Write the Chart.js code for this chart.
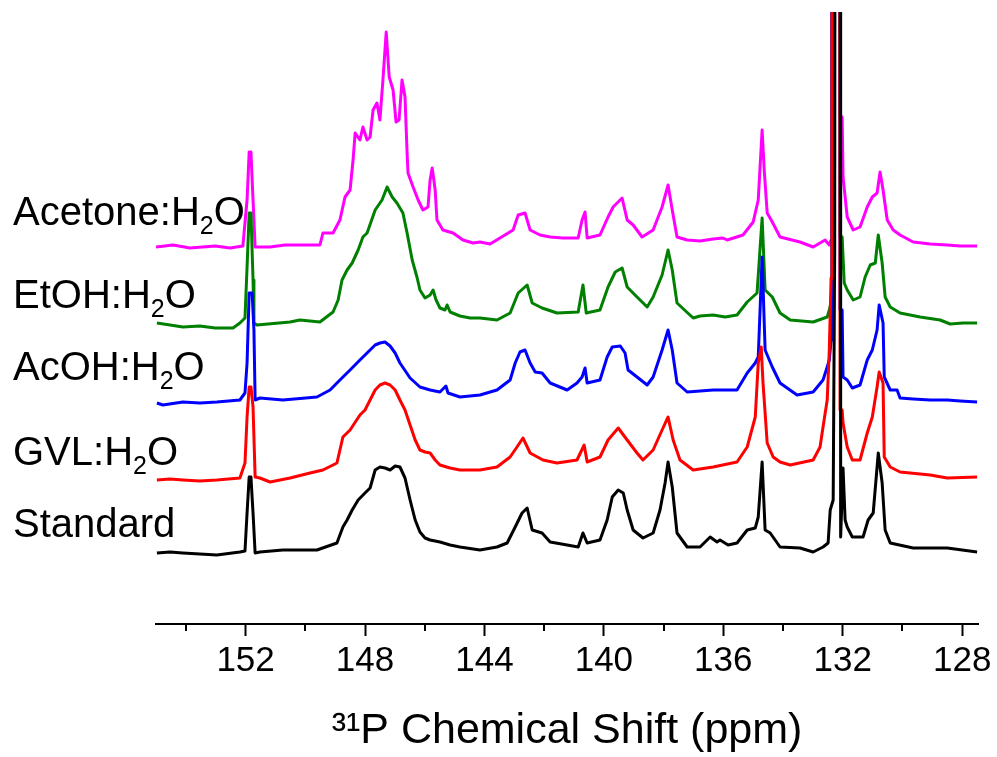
<!DOCTYPE html>
<html><head><meta charset="utf-8">
<script src="https://cdn.jsdelivr.net/npm/chart.js@4/dist/chart.umd.min.js"></script>
<style>html,body{margin:0;padding:0;background:#fff;}canvas{display:block;}</style>
</head><body>
<canvas id="c" width="997" height="757"></canvas>
<script>
// ---------- axis ticks ----------
const majorTicks = [152, 148, 144, 140, 136, 132, 128];
const minorTicks = [154, 150, 146, 142, 138, 134, 130];

// ---------- series (stacked 31P NMR spectra) ----------
const seriesNames = ['Standard', 'GVL:H2O', 'AcOH:H2O', 'EtOH:H2O', 'Acetone:H2O'];
const seriesColors = ['#000000', '#ff0000', '#0000ff', '#008000', '#ff00ff'];
const seriesOffsets = [74, 146, 224, 302, 379];

const acetonePpm = [155.00,154.43,153.86,153.02,152.52,152.09,151.95,151.88,151.82,151.75,151.68,151.62,151.18,150.68,150.18,149.51,149.41,149.07,148.84,148.67,148.50,148.40,148.33,148.17,148.07,147.93,147.83,147.73,147.60,147.50,147.40,147.29,147.19,147.06,146.96,146.86,146.76,146.66,146.59,146.56,146.39,146.22,146.06,145.89,145.82,145.75,145.65,145.59,145.39,145.05,144.72,144.38,144.15,143.81,143.48,143.04,142.87,142.64,142.47,142.14,141.80,141.37,140.86,140.73,140.63,140.56,140.13,139.86,139.69,139.39,139.22,139.02,138.72,138.35,138.05,137.85,137.71,137.55,137.21,136.78,136.34,136.01,135.87,135.34,135.00,134.83,134.70,134.63,134.53,134.36,134.10,133.43,132.99,132.59,132.45,132.39,132.36,132.10,132.09,132.02,131.99,131.85,131.65,131.42,131.18,131.01,130.85,130.75,130.65,130.51,130.31,130.08,129.64,129.07,128.50,128.07,127.50];
const acetoneInt = [-2,0,-3,-1,-3,-1,45,93,93,45,-2,-2,-2,0,0,0,12,12,25,48,55,85,112,105,118,105,108,135,142,125,165,213,168,155,123,125,165,148,92,72,58,45,35,38,65,77,55,25,15,12,5,2,3,1,7,15,30,32,15,10,8,7,7,25,33,7,10,28,38,47,25,20,8,15,38,60,35,8,5,4,6,7,5,10,23,45,115,75,32,23,8,3,-2,5,0,5,1400,1400,128,128,68,28,15,18,38,48,52,73,55,25,15,10,3,1,0,-1,-1];

const etohPpm = [154.97,154.53,154.10,153.53,153.02,152.42,152.19,152.02,151.95,151.88,151.82,151.75,151.72,151.62,150.51,150.18,149.51,149.07,148.90,148.77,148.60,148.43,148.23,148.07,147.93,147.66,147.43,147.26,147.09,146.93,146.73,146.59,146.42,146.26,146.16,145.99,145.82,145.72,145.62,145.49,145.32,145.25,145.15,144.82,144.48,144.15,143.58,143.14,142.87,142.57,142.40,142.07,141.57,140.86,140.70,140.59,140.13,139.86,139.62,139.39,139.22,138.89,138.55,138.35,138.05,137.85,137.71,137.55,137.01,136.78,136.34,135.94,135.54,135.20,134.87,134.70,134.60,134.36,134.10,133.76,132.99,132.52,132.45,132.39,132.36,132.10,132.09,132.02,131.95,131.85,131.65,131.42,131.25,131.08,130.91,130.81,130.68,130.58,130.41,130.08,129.41,128.74,128.40,127.97,127.50];
const etohInt = [-1,-3,-5,-4,-6,-6,-1,4,55,109,109,42,-1,-3,0,2,0,10,22,42,52,59,72,85,89,112,122,135,125,119,109,89,62,45,32,24,27,32,22,14,12,17,10,6,4,4,2,9,29,37,19,14,9,10,37,9,12,35,50,54,35,25,15,25,47,72,52,19,4,6,7,5,7,20,29,104,32,25,9,2,0,5,12,20,1400,1400,85,85,39,32,22,25,45,57,59,87,59,25,15,9,5,2,-2,-1,-1];

const acohPpm = [154.97,154.77,154.10,153.53,152.96,152.19,152.02,151.95,151.88,151.78,151.72,151.68,151.52,150.75,149.61,149.17,148.84,148.50,148.17,147.83,147.66,147.50,147.33,147.16,146.99,146.83,146.49,146.16,145.82,145.49,145.29,145.22,144.82,144.15,143.58,143.14,142.97,142.81,142.64,142.47,142.30,142.07,141.80,141.23,140.90,140.73,140.63,140.56,140.13,139.89,139.72,139.45,139.29,139.19,138.89,138.55,138.35,138.05,137.85,137.71,137.55,137.21,136.34,135.54,135.20,134.93,134.83,134.70,134.60,134.36,134.10,133.53,132.99,132.66,132.52,132.45,132.39,132.36,132.10,132.09,132.02,131.99,131.85,131.68,131.42,131.18,131.01,130.85,130.78,130.65,130.61,130.41,130.18,130.08,129.64,129.07,128.50,128.07,127.50];
const acohInt = [-3,-5,-2,-3,-2,0,7,37,107,107,70,0,2,0,3,10,20,30,40,50,55,57,58,54,47,37,22,13,10,8,14,7,3,5,10,20,37,48,50,37,28,27,17,10,17,23,32,17,20,43,53,54,47,30,23,15,23,50,70,50,17,8,10,10,27,37,43,143,50,33,17,5,8,20,33,40,60,1400,1400,90,90,23,20,12,15,40,50,70,95,77,23,10,10,2,1,0,0,-1,-2];

const gvlPpm = [154.97,154.53,154.10,153.53,152.96,152.19,152.02,151.95,151.88,151.82,151.75,151.68,151.52,151.18,150.51,149.84,149.41,148.94,148.74,148.50,148.17,148.00,147.83,147.66,147.50,147.33,147.16,146.99,146.83,146.66,146.49,146.32,146.16,145.99,145.82,145.65,145.49,145.15,144.82,144.15,143.58,143.14,142.91,142.71,142.47,142.04,141.57,140.90,140.66,140.56,140.13,139.86,139.52,139.22,138.89,138.69,138.35,138.05,137.85,137.68,137.45,137.01,136.34,135.54,135.20,134.93,134.83,134.73,134.67,134.53,134.33,134.10,133.76,132.99,132.76,132.66,132.52,132.45,132.39,132.36,132.10,132.09,132.02,131.99,131.85,131.68,131.42,131.18,131.01,130.85,130.78,130.65,130.61,130.41,130.08,129.07,128.50,127.50];
const gvlInt = [-2,-1,-2,-3,-2,0,15,61,91,91,71,1,0,-4,0,5,8,15,41,48,63,68,78,88,93,95,93,88,78,68,53,38,28,26,25,18,13,10,8,8,11,21,31,40,25,18,15,18,33,16,21,38,50,38,25,18,28,48,61,38,18,8,11,16,31,61,115,131,95,35,21,16,13,18,31,51,78,128,200,1400,1400,68,68,55,31,18,18,45,61,91,106,95,21,11,6,3,0,1];

const standardPpm = [154.97,154.53,154.10,153.53,152.96,152.19,152.02,151.95,151.88,151.82,151.75,151.68,151.52,150.75,149.61,148.94,148.74,148.60,148.43,148.23,148.00,147.83,147.66,147.50,147.33,147.16,146.99,146.83,146.66,146.49,146.32,146.16,145.99,145.82,145.49,145.15,144.82,144.15,143.58,143.24,142.97,142.74,142.57,142.40,142.07,141.80,141.23,140.86,140.70,140.56,140.13,139.89,139.72,139.52,139.35,139.22,139.02,138.69,138.35,138.12,137.95,137.85,137.71,137.55,137.21,136.78,136.44,136.21,136.11,135.84,135.54,135.20,134.93,134.83,134.70,134.60,134.43,134.10,133.43,132.99,132.66,132.49,132.42,132.32,132.27,132.24,132.09,132.07,131.99,131.92,131.85,131.68,131.32,131.15,130.98,130.81,130.68,130.58,130.41,129.64,128.50,127.50];
const standardInt = [-3,-2,-3,-4,-5,-2,-1,37,73,73,37,-3,-2,0,0,7,23,30,40,50,57,62,80,83,82,80,84,83,72,50,30,18,12,10,8,5,3,0,3,7,23,37,42,20,17,8,5,3,17,7,10,30,53,60,57,40,20,12,17,40,67,88,63,17,3,3,13,8,10,5,7,20,22,33,88,20,17,3,2,-2,3,7,40,50,300,1400,1400,13,82,30,23,13,13,30,37,97,67,20,7,2,2,-2];

const seriesPpm = [standardPpm, gvlPpm, acohPpm, etohPpm, acetonePpm];
const seriesInt = [standardInt, gvlInt, acohInt, etohInt, acetoneInt];

const axisTitle = '\u00B3\u00B9P Chemical Shift (ppm)';
const FONT = '"Liberation Sans", Arial, sans-serif';

// label placement (layout only)
const labelLeft = 13;
const labelBaselines = [537, 465, 380, 308, 225];

const datasets = seriesNames.map((name, i) => ({
  label: name,
  data: seriesPpm[i].map((p, k) => ({x: p, y: seriesOffsets[i] + seriesInt[i][k]})),
  borderColor: seriesColors[i],
  backgroundColor: seriesColors[i],
  borderWidth: 3,
  pointRadius: 0,
  tension: 0,
  fill: false,
  borderJoinStyle: 'round'
}));

const decoPlugin = {
  id: 'deco',
  afterDraw(chart) {
    const ctx = chart.ctx;
    const xs = chart.scales.x;
    ctx.save();
    ctx.strokeStyle = '#000';
    ctx.lineWidth = 2;
    minorTicks.forEach(v => {
      const px = Math.round(xs.getPixelForValue(v));
      ctx.beginPath();
      ctx.moveTo(px, xs.top);
      ctx.lineTo(px, xs.top + 7);
      ctx.stroke();
    });
    ctx.fillStyle = '#000';
    ctx.textBaseline = 'alphabetic';
    ctx.textAlign = 'left';
    seriesNames.forEach((name, i) => {
      let x = labelLeft;
      const y = labelBaselines[i];
      for (let k = 0; k < name.length; k++) {
        const ch = name[k];
        if (ch === '2' && name[k - 1] === 'H') {
          ctx.font = '25px ' + FONT;
          ctx.fillText(ch, x, y + 9);
        } else {
          ctx.font = '40px ' + FONT;
          ctx.fillText(ch, x, y);
        }
        x += ctx.measureText(ch).width;
      }
    });
    ctx.restore();
  }
};

new Chart(document.getElementById('c'), {
  type: 'line',
  data: { datasets },
  options: {
    responsive: false,
    animation: false,
    devicePixelRatio: 1,
    layout: { padding: { left: 156, right: 19, top: 12, bottom: 0 } },
    plugins: { legend: { display: false }, tooltip: { enabled: false } },
    scales: {
      x: {
        type: 'linear',
        reverse: true,
        min: 127.47,
        max: 155,
        afterBuildTicks: s => { s.ticks = majorTicks.map(v => ({ value: v })); },
        afterFit: s => { s.height = 133; },
        grid: { drawOnChartArea: false, drawTicks: true, tickLength: 12, tickWidth: 2, tickColor: '#000' },
        border: { display: true, color: '#000', width: 2 },
        ticks: { color: '#000', font: { family: FONT, size: 35 }, padding: 4, maxRotation: 0, autoSkip: false },
        title: { display: true, text: axisTitle, color: '#000', font: { family: FONT, size: 43 }, padding: { top: 0, bottom: 0 } }
      },
      y: { display: false, min: 0, max: 612 }
    }
  },
  plugins: [decoPlugin]
});
</script>
</body></html>
